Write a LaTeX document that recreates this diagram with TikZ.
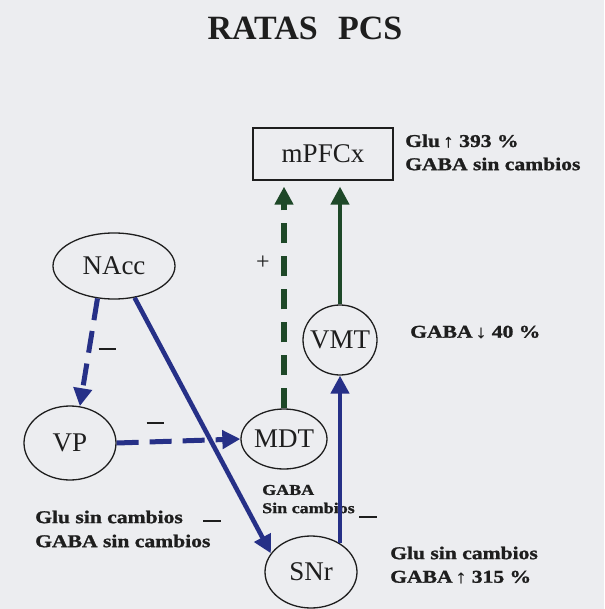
\documentclass[tikz,border=0pt]{standalone}
\usepackage{fontspec}
\setmainfont{Liberation Serif}
\newfontfamily\lblfont[FakeStretch=1.2,BoldFeatures={FakeBold=1.2}]{Liberation Serif}
\usetikzlibrary{arrows.meta,shapes.geometric}
\definecolor{bgc}{RGB}{236,237,240}
\definecolor{navy}{RGB}{38,48,135}
\definecolor{dgreen}{RGB}{30,72,40}
\definecolor{ink}{RGB}{30,30,30}
\newcommand\zw[1]{\makebox[0pt][c]{#1}}
\begin{document}
\begin{tikzpicture}[x=1pt,y=-1pt,
  region/.style={ellipse,draw=ink,line width=1.3pt,inner sep=0pt,text=ink,font=\fontsize{27}{27}\selectfont},
  lbl/.style={anchor=west,inner sep=0pt,text=ink,font=\lblfont\bfseries\fontsize{18}{22}\selectfont},
  lblsmall/.style={anchor=west,inner sep=0pt,text=ink,font=\lblfont\bfseries\fontsize{15}{18}\selectfont},
  bar/.style={inner sep=0pt,text=ink},
  tip/.style={-{Triangle[length=18pt,width=18pt]}},
  bluesolid/.style={draw=navy,line width=4.6pt,tip},
  bluedash/.style={draw=navy,line width=5pt,dash pattern=on 22pt off 11pt,tip},
  greensolid/.style={draw=dgreen,line width=4.3pt,tip,shorten >=6pt},
  greendash/.style={draw=dgreen,line width=5.5pt,dash pattern=on 20pt off 13pt,tip,shorten >=6pt}
]
\path[use as bounding box,fill=bgc] (0,0) rectangle (604,609);

\node[text=ink,font=\bfseries\fontsize{34}{34}\selectfont] (title) at (305,28) {RATAS\hspace{0.6em}PCS};

\node[draw=ink,line width=1.3pt,minimum width=140pt,minimum height=52pt,inner sep=0pt,text=ink,font=\fontsize{27}{27}\selectfont] (pfc) at (323,154) {\zw{mPFCx}};
\node[region,minimum width=122pt,minimum height=66pt] (nacc) at (114,266) {\zw{NAcc}};
\node[region,minimum width=74pt,minimum height=70pt] (vmt) at (340,340) {\zw{VMT}};
\node[region,minimum width=92pt,minimum height=74pt] (vp) at (70,443) {\zw{VP}};
\node[region,minimum width=86pt,minimum height=60pt] (mdt) at (284,439) {\zw{MDT}};
\node[region,minimum width=92pt,minimum height=72pt] (snr) at (311,572) {\zw{SNr}};

\node[lbl] (l1) at (405,141) {Glu\,↑ 393 \%};
\node[lbl] (l2) at (405,164) {GABA sin cambios};
\node[lbl] (l3) at (410,332) {GABA\,↓ 40 \%};
\node[lblsmall] (l4) at (262,490) {GABA};
\node[lblsmall] (l5) at (262,508) {Sin cambios};
\node[lbl] (l6) at (35,517) {Glu sin cambios};
\node[lbl] (l7) at (35,541) {GABA sin cambios};
\node[lbl] (l8) at (390,553) {Glu sin cambios};
\node[lbl] (l9) at (390,577) {GABA\,↑ 315 \%};

\node[bar] (m1) at (212,521) {\rule{18pt}{2.2pt}};
\node[bar] (m2) at (368,517) {\rule{18pt}{2.2pt}};
\node[bar] (m3) at (107,349) {\rule{17pt}{2.2pt}};
\node[bar] (m4) at (155,423) {\rule{17pt}{2.2pt}};
\node[text=ink,inner sep=0pt,font=\fontsize{24}{24}\selectfont] (plus) at (263,263) {+};

\draw[bluedash] (nacc.-117) -- (vp.75);
\draw[bluesolid] (nacc.-57) -- (snr.155);
\draw[bluedash] (vp.east) -- (mdt.west);
\draw[bluesolid] (vmt.south |- snr.45) -- (vmt.south);
\draw[greendash] (mdt.north) -- (mdt.north |- pfc.south);
\draw[greensolid] (vmt.north) -- (vmt.north |- pfc.south);
\end{tikzpicture}
\end{document}
